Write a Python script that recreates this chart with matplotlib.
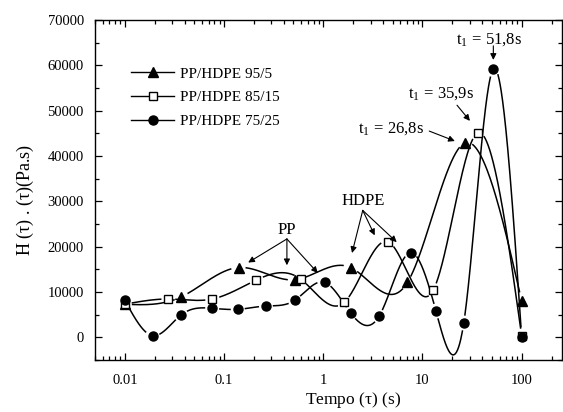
import numpy as np
import matplotlib
matplotlib.use("Agg")
import matplotlib.pyplot as plt
from matplotlib.ticker import LogLocator, MultipleLocator, NullFormatter

plt.rcParams["font.family"] = ["Liberation Serif", "DejaVu Serif"]
plt.rcParams["mathtext.fontset"] = "stix"

# relaxation spectrum H(tau)*tau for the three blends
tau_95 = [0.01, 0.0368, 0.14, 0.516, 1.89, 7.05, 26.8, 100]
h_95 = [7300, 8900, 15400, 12700, 15400, 12100, 42900, 8000]

tau_85 = [0.01, 0.0274, 0.076, 0.212, 0.59, 1.63, 4.53, 12.8, 35.9, 100]
h_85 = [7300, 8450, 8450, 12650, 12870, 7730, 21040, 10370, 45100, 300]

tau_75 = [0.01, 0.019, 0.0368, 0.076, 0.137, 0.265, 0.516, 1.03, 1.89,
          3.65, 7.6, 13.7, 26.1, 51.8, 100]
h_75 = [8170, 370, 4920, 6400, 6180, 6910, 8170, 12140, 5370,
        4640, 18700, 5740, 3240, 59200, 0]

labels = ["PP/HDPE 95/5", "PP/HDPE 85/15", "PP/HDPE 75/25"]
markers = ["^", "s", "o"]
mfaces = ["black", "white", "black"]
msizes = [7, 6, 6.5]


def spline_curve(x, y, per_seg=80):
    """Natural cubic spline through the points, in log10(x)."""
    u = np.log10(np.asarray(x, float))
    a = np.asarray(y, float)
    n = len(u)
    h = np.diff(u)
    A = np.zeros((n, n))
    r = np.zeros(n)
    A[0, 0] = A[-1, -1] = 1.0
    for i in range(1, n - 1):
        A[i, i - 1] = h[i - 1]
        A[i, i] = 2 * (h[i - 1] + h[i])
        A[i, i + 1] = h[i]
        r[i] = 3 * ((a[i + 1] - a[i]) / h[i] - (a[i] - a[i - 1]) / h[i - 1])
    c = np.linalg.solve(A, r)
    us, ys = [], []
    for i in range(n - 1):
        b = (a[i + 1] - a[i]) / h[i] - h[i] * (2 * c[i] + c[i + 1]) / 3
        d = (c[i + 1] - c[i]) / (3 * h[i])
        t = np.linspace(0, h[i], per_seg, endpoint=(i == n - 2))
        us.append(u[i] + t)
        ys.append(a[i] + b * t + c[i] * t ** 2 + d * t ** 3)
    return 10 ** np.concatenate(us), np.concatenate(ys)


fig = plt.figure(figsize=(5.63, 4.12), dpi=100)
ax = fig.add_axes([95 / 563, 52 / 412, 467 / 563, 340 / 412])
ax.set_xscale("log")
ax.set_xlim(0.005, 255)
ax.set_ylim(-5000, 70000)

series = [(tau_95, h_95), (tau_85, h_85), (tau_75, h_75)]
gap = 7.5  # px left open around each symbol
for (tx, hy), lab, mk, mf, ms in zip(series, labels, markers, mfaces, msizes):
    cx, cy = spline_curve(tx, hy)
    disp = ax.transData.transform(np.column_stack([cx, cy]))
    pts = ax.transData.transform(np.column_stack([tx, hy]))
    dist = np.min(np.hypot(disp[:, None, 0] - pts[None, :, 0],
                           disp[:, None, 1] - pts[None, :, 1]), axis=1)
    cy = np.where(dist < gap, np.nan, cy)
    ax.plot(cx, cy, color="black", lw=1.1, zorder=2)
    ax.plot(tx, hy, ls="none", marker=mk, ms=ms, mfc=mf, mec="black",
            mew=1.0, zorder=3)
    ax.plot([], [], color="black", lw=1.0, marker=mk, ms=ms, mfc=mf,
            mec="black", mew=1.0, label=lab)

ax.set_xticks([0.01, 0.1, 1, 10, 100])
ax.set_xticklabels(["0.01", "0.1", "1", "10", "100"])
ax.xaxis.set_minor_locator(LogLocator(base=10, subs=np.arange(2, 10), numticks=20))
ax.xaxis.set_minor_formatter(NullFormatter())
ax.yaxis.set_major_locator(MultipleLocator(10000))
ax.yaxis.set_minor_locator(MultipleLocator(5000))
ax.tick_params(which="both", direction="in", top=True, right=True,
               width=0.9, labelsize=10.5)
ax.tick_params(which="major", length=5)
ax.tick_params(which="minor", length=3)
ax.tick_params(axis="y", pad=8)
ax.tick_params(axis="x", pad=10)
for sp in ax.spines.values():
    sp.set_linewidth(1.0)

fig.text(353 / 563, 1 - 400 / 412, r"Tempo ($\mathregular{\tau}$) (s)",
         ha="center", va="center", fontsize=12.5)
fig.text(25 / 563, 1 - 200 / 412,
         r"H ($\mathregular{\tau}$) . ($\mathregular{\tau}$)(Pa.s)",
         ha="center", va="center", rotation=90, fontsize=13)

ax.legend(loc="upper left", bbox_to_anchor=(0.078, 0.862), frameon=False,
          fontsize=11, handlelength=2.8, handletextpad=0.35,
          labelspacing=0.65, borderaxespad=0, borderpad=0)

arrow = dict(arrowstyle="-|>", color="black", lw=0.8,
             mutation_scale=9, shrinkA=0, shrinkB=0)

# relaxation time peaks
ax.text(46.8, 65600, r"t$_\mathregular{1}$ = 51,8s", ha="center",
        va="center", fontsize=12)
ax.annotate("", xy=(51.8, 61200), xytext=(51.8, 64300), arrowprops=arrow)
ax.text(15.3, 53800, r"t$_\mathregular{1}$ = 35,9s", ha="center",
        va="center", fontsize=12)
ax.annotate("", xy=(30.1, 47750), xytext=(22.3, 51200), arrowprops=arrow)
ax.text(4.86, 46100, r"t$_\mathregular{1}$ = 26,8s", ha="center",
        va="center", fontsize=12)
ax.annotate("", xy=(21.2, 43300), xytext=(11.7, 45500), arrowprops=arrow)

# PP and HDPE relaxation regions
ax.text(0.43, 23600, "PP", ha="center", va="center", fontsize=12)
for tx, ty in [(0.175, 16500), (0.43, 15900), (0.88, 14200)]:
    ax.annotate("", xy=(tx, ty), xytext=(0.43, 21700), arrowprops=arrow)
ax.text(2.5, 30000, "HDPE", ha="center", va="center", fontsize=12)
for tx, ty in [(1.95, 18600), (3.3, 22500), (5.5, 21000)]:
    ax.annotate("", xy=(tx, ty), xytext=(2.5, 28000), arrowprops=arrow)

fig.savefig("out.png", dpi=100)
